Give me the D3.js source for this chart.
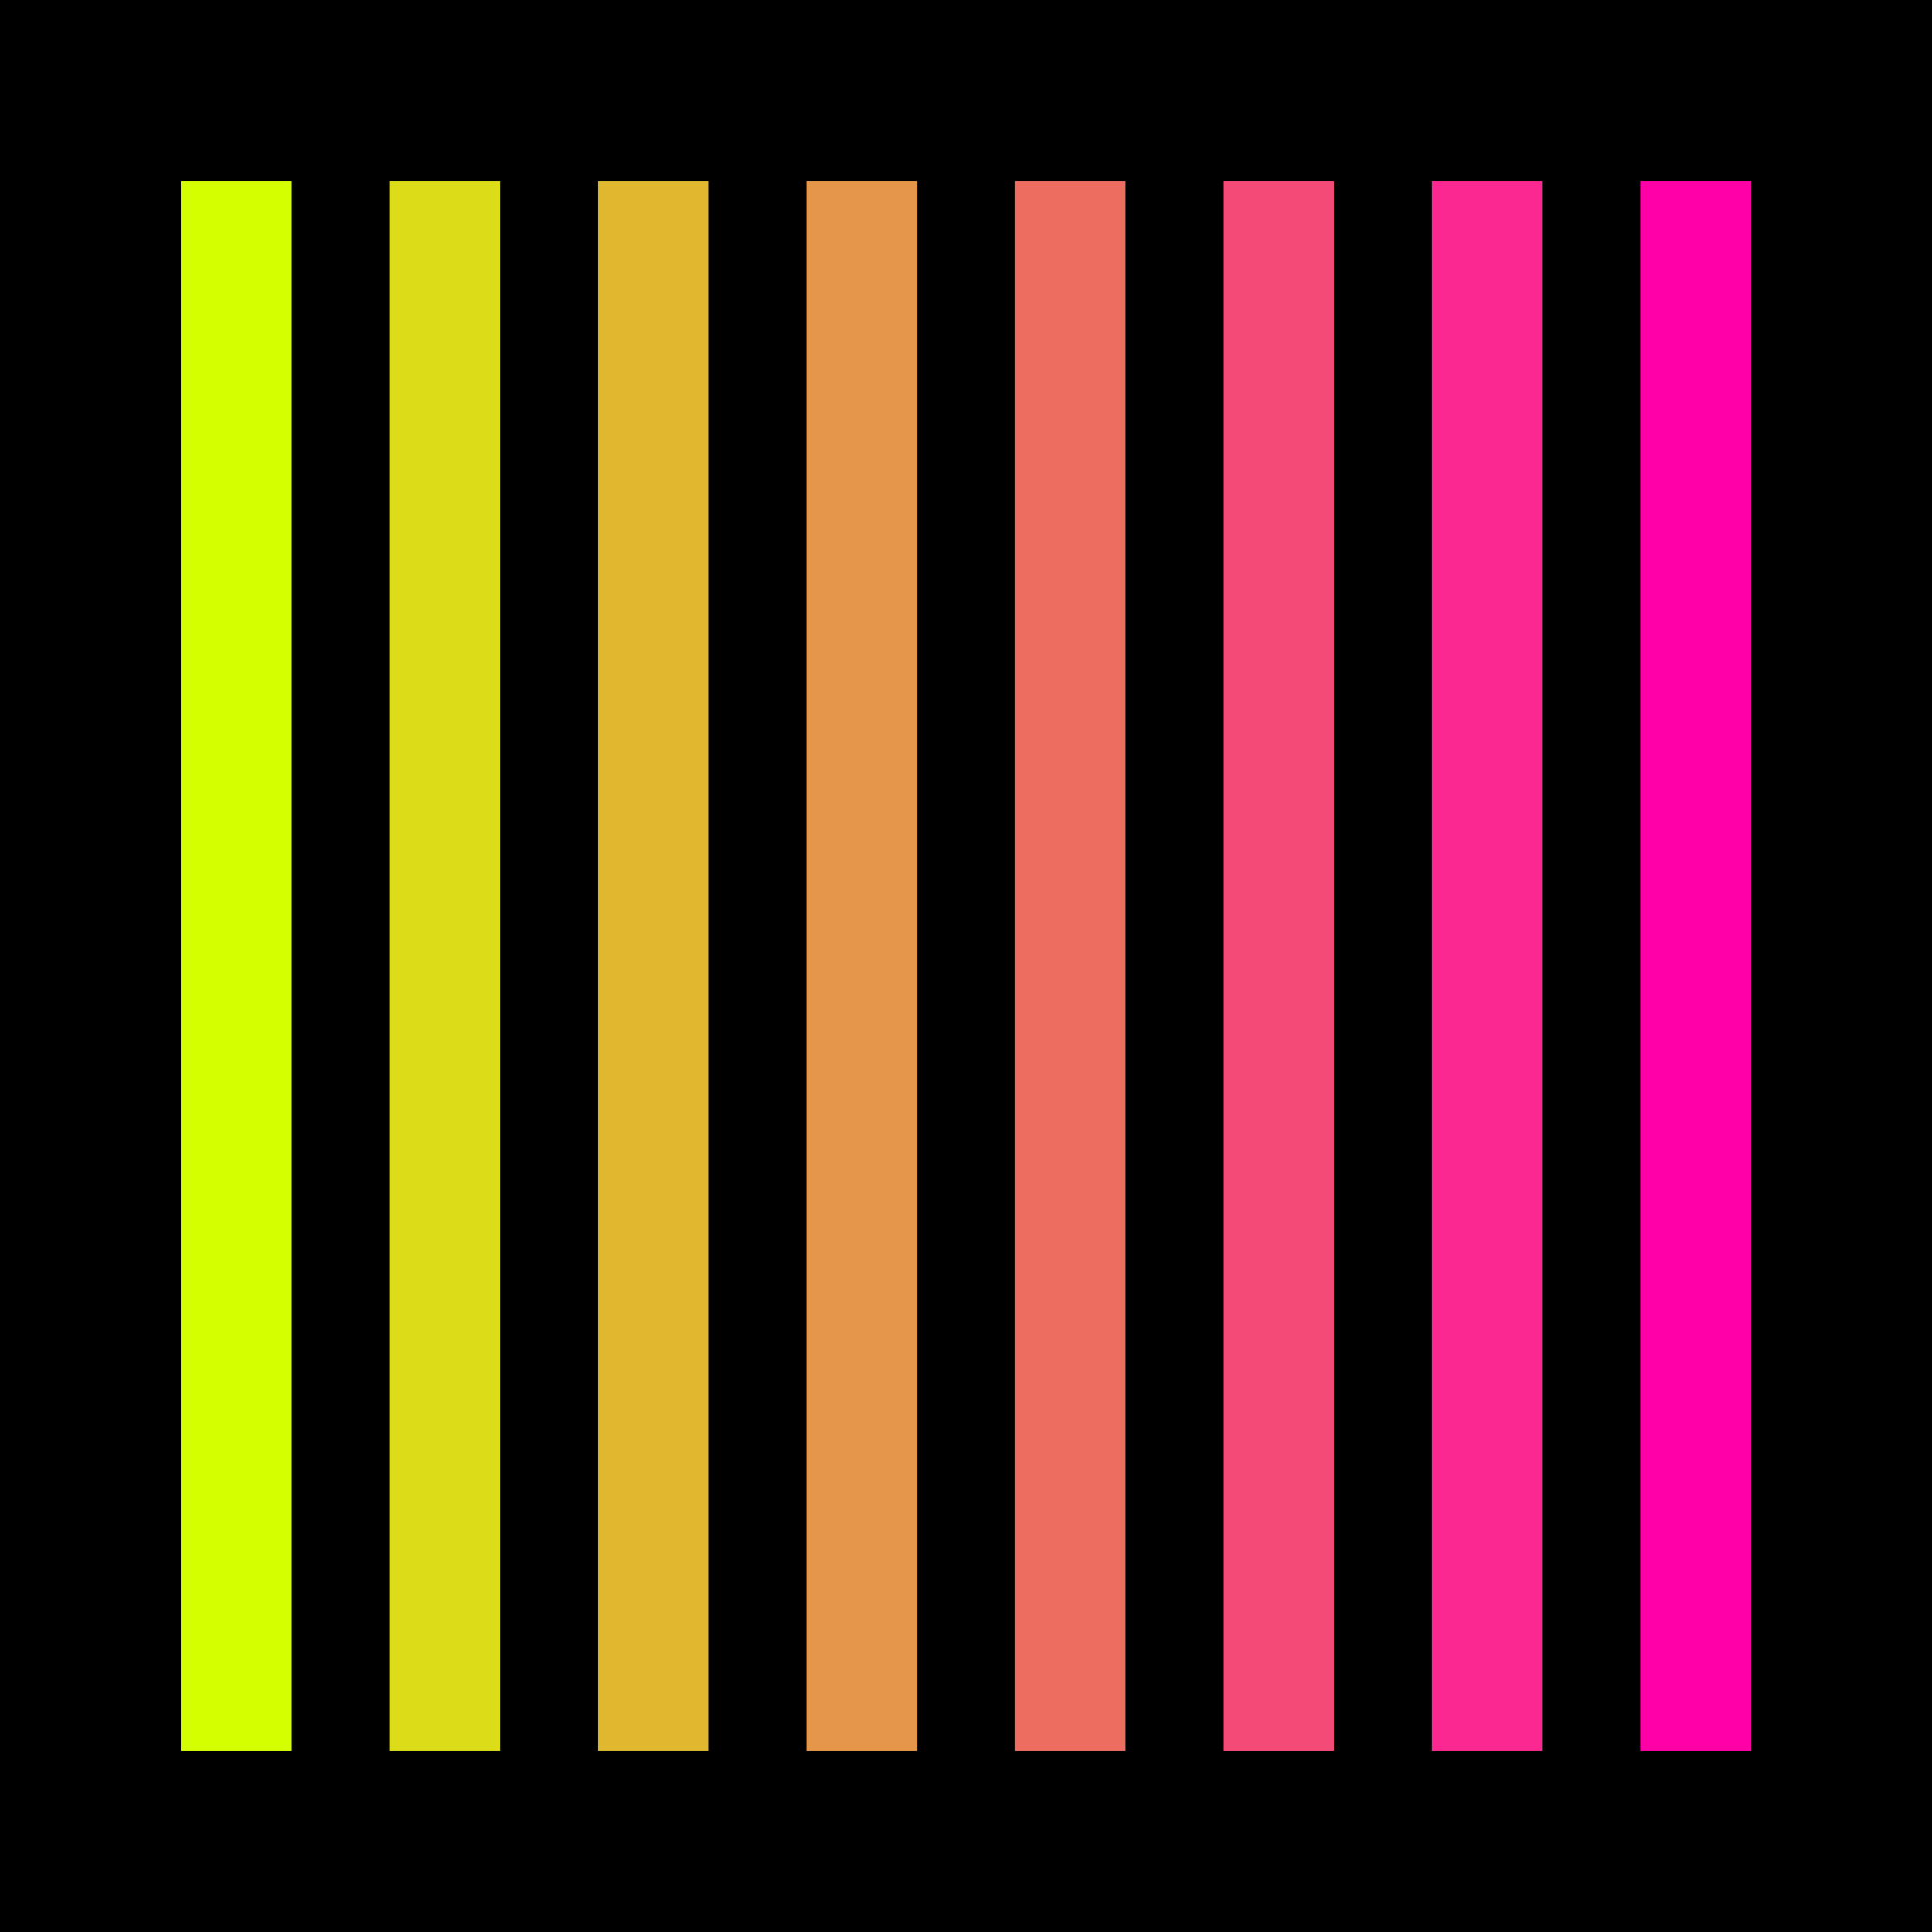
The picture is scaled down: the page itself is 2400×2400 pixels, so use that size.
<!DOCTYPE html>
<html>
<head>
<meta charset="utf-8">
<script src="https://cdn.jsdelivr.net/npm/d3@7"></script>
<style>
    body { margin: 0; background: #000; }
</style>
</head>
<body>
<div id="chart-area"></div>
<script>

// bar data
var categories = ["a", "b", "c", "d", "e", "f", "g", "h"];
var values = [1, 1, 1, 1, 1, 1, 1, 1];
var barColors = ["#d4ff00", "#dcdc19", "#e0b830", "#e6964a", "#ed6e60", "#f44a78", "#fa2890", "#ff00a6"];

var data = categories.map(function(c, i) {
    return {key: c, value: values[i], color: barColors[i]};
});

var margin = {top: 225, right: 225, bottom: 225, left: 225};
var width = 2400 - margin.left - margin.right;
var height = 2400 - margin.top - margin.bottom;

var svg = d3.select("#chart-area").append("svg")
    .attr("width", width + margin.left + margin.right)
    .attr("height", height + margin.top + margin.bottom)
    .style("display", "block")
    .style("background", "#000");

svg.append("rect")
    .attr("width", width + margin.left + margin.right)
    .attr("height", height + margin.top + margin.bottom)
    .attr("fill", "#000");

var g = svg.append("g")
    .attr("transform", "translate(" + margin.left + "," + margin.top + ")");

var xScale = d3.scaleBand()
    .domain(categories)
    .range([0, width])
    .paddingInner(0.47)
    .paddingOuter(0);

var yScale = d3.scaleLinear()
    .domain([0, d3.max(values)])
    .range([height, 0]);

g.selectAll(".bar")
    .data(data)
    .enter().append("rect")
    .attr("class", "bar")
    .attr("x", function(d) { return xScale(d.key); })
    .attr("y", function(d) { return yScale(d.value); })
    .attr("width", xScale.bandwidth())
    .attr("height", function(d) { return height - yScale(d.value); })
    .attr("fill", function(d) { return d.color; });

</script>
</body>
</html>
